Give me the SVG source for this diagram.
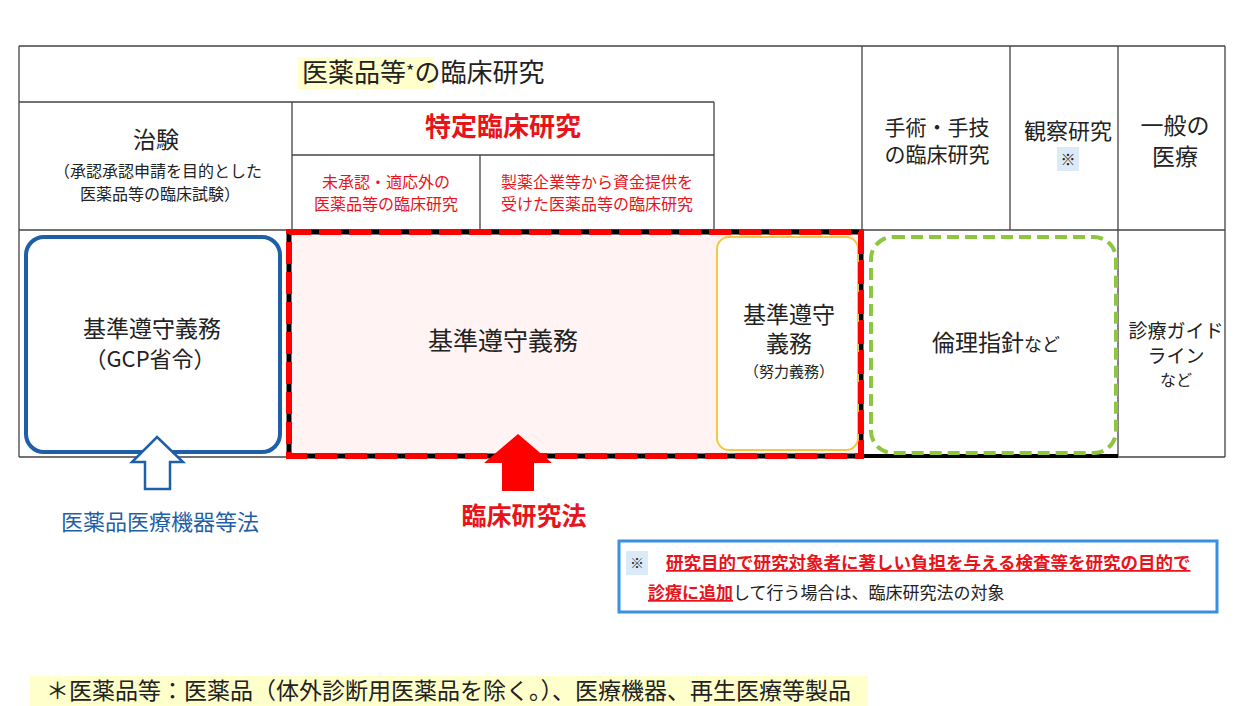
<svg xmlns="http://www.w3.org/2000/svg" width="1239" height="706" viewBox="0 0 1239 706">
<style>
text{font-family:"Noto Sans CJK JP","Noto Sans",sans-serif;fill:#222;text-anchor:middle}
.g{stroke:#444;stroke-width:1.3;fill:none}
.r{fill:#e8141b}
.b{font-weight:bold}
</style>
<rect width="1239" height="706" fill="#fff"/>
<g id="table">
<path class="g" d="M19 46H1225M19 102H714M292 155H714M19 230H1225M19 457H1225M19 46V457M292 102V230M480 155V230M714 102V230M862 46V457M1010 46V230M1118 46V457M1225 46V457"/>
<path d="M862 456H1118" stroke="#000" stroke-width="4"/>
</g>
<g id="headers">
<rect x="298" y="57" width="136" height="32" fill="#ffffcc"/>
<text x="302" y="82" font-size="26" style="text-anchor:start">医薬品等<tspan font-size="18" dy="-4">*</tspan><tspan dy="4">の臨床研究</tspan></text>
<text x="156" y="148" font-size="23">治験</text>
<text x="158" y="177" font-size="16">（承認承認申請を目的とした</text>
<text x="160" y="200" font-size="16">医薬品等の臨床試験）</text>
<text x="503" y="136" font-size="26" class="b r">特定臨床研究</text>
<text x="386" y="188" font-size="16" class="r">未承認・適応外の</text>
<text x="386" y="210" font-size="16" class="r">医薬品等の臨床研究</text>
<text x="597" y="188" font-size="16" class="r">製薬企業等から資金提供を</text>
<text x="597" y="210" font-size="16" class="r">受けた医薬品等の臨床研究</text>
<text x="937" y="135" font-size="21">手術・手技</text>
<text x="937" y="162" font-size="21">の臨床研究</text>
<text x="1068" y="139" font-size="22">観察研究</text>
<rect x="1057" y="147" width="22" height="24" fill="#dbeaf8"/>
<text x="1068" y="165" font-size="15">※</text>
<text x="1175" y="134" font-size="23">一般の</text>
<text x="1175" y="165" font-size="23">医療</text>
</g>
<g id="gcp">
<rect x="26" y="237" width="254" height="215" rx="18" fill="#fff" stroke="#1f5fa8" stroke-width="4"/>
<text x="152" y="337" font-size="23">基準遵守義務</text>
<text x="150" y="367" font-size="22">（GCP省令）</text>
</g>
<g id="tokutei">
<rect x="289" y="232" width="572" height="224" fill="#fff3f3" stroke="#000" stroke-width="5"/>
<rect x="289" y="232" width="572" height="224" fill="none" stroke="#f00" stroke-width="6" stroke-dasharray="22 8"/>
<text x="503" y="350" font-size="25">基準遵守義務</text>
</g>
<g id="doryoku">
<rect x="717" y="237" width="141" height="213" rx="12" fill="#fff" stroke="#f5c842" stroke-width="2"/>
<text x="789" y="323" font-size="23">基準遵守</text>
<text x="789" y="352" font-size="23">義務</text>
<text x="789" y="377" font-size="15">（努力義務）</text>
</g>
<path d="M861 232V456" stroke="#f00" stroke-width="6" stroke-dasharray="22 8"/>
<g id="rinri">
<rect x="871" y="237" width="245" height="216" rx="22" fill="#fff" stroke="#8dc63f" stroke-width="4" stroke-dasharray="12 6"/>
<text x="996" y="351" font-size="23">倫理指針<tspan font-size="18">など</tspan></text>
</g>
<g id="guide">
<text x="1176" y="338" font-size="19">診療ガイド</text>
<text x="1176" y="363" font-size="19">ライン</text>
<text x="1176" y="386" font-size="16">など</text>
</g>
<g id="connectors">
<path d="M157 437L183 462H170V489H145V462H132Z" fill="#fff" stroke="#1f5fa8" stroke-width="2.5"/>
<path d="M518 434L552 463H534V491H502V463H484Z" fill="#f00"/>
</g>
<g id="laws">
<text x="160" y="530" font-size="22" style="fill:#1f5fa8">医薬品医療機器等法</text>
<text x="524" y="525" font-size="25" class="b r">臨床研究法</text>
</g>
<g id="note">
<rect x="619" y="541" width="598" height="71" fill="#fff" stroke="#3b8fe0" stroke-width="3"/>
<rect x="626" y="551" width="22" height="24" fill="#dbeaf8"/>
<text x="637" y="568" font-size="14">※</text>
<text x="666" y="569" font-size="17.5" class="b r" style="text-anchor:start" text-decoration="underline">研究目的で研究対象者に著しい負担を与える検査等を研究の目的で</text>
<text x="648" y="599" font-size="17" style="text-anchor:start"><tspan class="b r" text-decoration="underline">診療に追加</tspan>して行う場合は、臨床研究法の対象</text>
</g>
<g id="footnote">
<rect x="30" y="676" width="838" height="30" fill="#ffffcc"/>
<text x="46" y="699" font-size="23" style="text-anchor:start">＊医薬品等：医薬品（体外診断用医薬品を除く。）、医療機器、再生医療等製品</text>
</g>
</svg>
